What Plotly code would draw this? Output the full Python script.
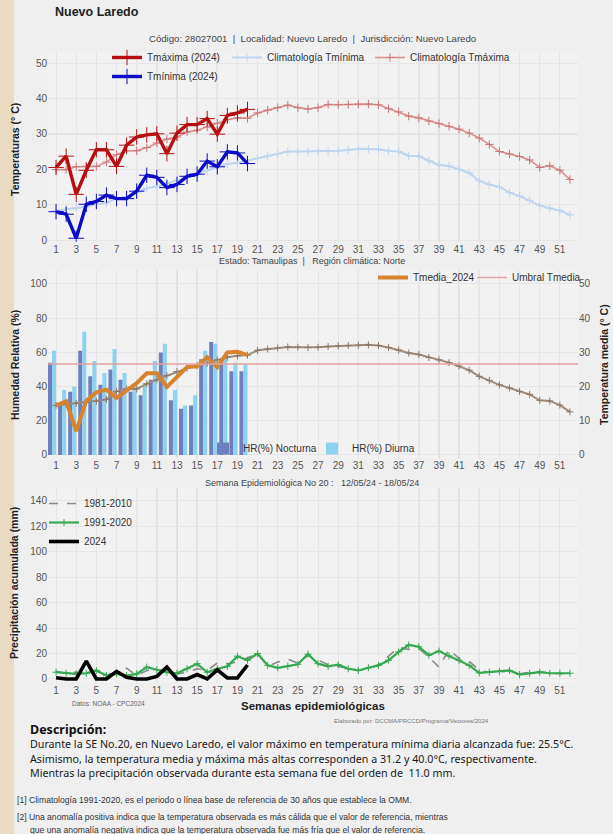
"""Boletín semanal: temperaturas, humedad y precipitación - Nuevo Laredo"""

import plotly.graph_objects as go

W, H = 613, 834

WEEKS = list(range(1, 53))
WEEKS_2024 = list(range(1, 21))
TICK_WEEKS = list(range(1, 52, 2))
MARK_WEEKS = [9, 11, 13, 15, 17, 19, 31, 33, 35, 37, 39, 41, 43]

# --- temperaturas (°C)
TMAX_2024 = [20.5, 23.7, 12.9, 19.7, 25.5, 25.5, 20.8, 26.8, 29.1, 29.7,
             30.0, 24.4, 30.2, 32.6, 32.6, 34.3, 29.9, 35.2, 35.9, 36.9]
TMIN_2024 = [8.0, 7.3, 0.5, 10.1, 10.9, 12.7, 11.7, 11.7, 13.8, 18.3,
             17.7, 14.8, 15.7, 18.0, 18.6, 22.3, 20.7, 24.9, 24.6, 21.6]
CLIM_TMAX = [19.9, 19.9, 20.7, 20.8, 20.8, 22.0, 24.1, 25.2, 25.2, 26.1,
             27.4, 28.5, 29.1, 30.5, 31.0, 31.9, 33.0, 34.0, 34.5, 34.4,
             35.9, 36.7, 37.4, 38.1, 37.4, 37.0, 37.4, 38.3, 38.2, 38.3,
             38.4, 38.4, 38.2, 37.1, 36.2, 35.0, 34.5, 33.6, 32.9, 32.1,
             31.3, 30.2, 28.8, 27.0, 25.0, 24.3, 23.6, 22.6, 20.5, 21.0,
             19.7, 17.1]
CLIM_TMIN = [8.3, 8.6, 9.1, 9.4, 10.1, 10.5, 11.7, 12.2, 13.3, 14.6,
             15.2, 16.0, 16.9, 17.7, 18.8, 19.7, 20.7, 21.5, 21.8, 22.4,
             23.1, 23.8, 24.3, 25.0, 25.0, 25.0, 25.0, 25.0, 25.2, 25.4,
             25.7, 25.7, 25.6, 25.2, 25.0, 23.8, 23.7, 22.4, 21.2, 20.9,
             20.0, 19.0, 16.7, 15.7, 15.0, 13.4, 12.4, 11.2, 9.8, 9.0,
             8.3, 7.1]

# --- humedad relativa (%) y temperatura media (°C)
HR_NOCT = [54, 29, 37, 61, 46, 41, 50, 44, 37, 35,
           44, 60, 32, 27, 29, 56, 66, 56, 49, 49]
HR_DIUR = [61, 38, 40, 72, 55, 48, 62, 48, 40, 42,
           55, 65, 38, 29, 35, 61, 65, 58, 54, 53]
TMED_2024 = [14.5, 15.7, 7.0, 15.9, 18.3, 19.1, 16.7, 18.9, 21.0, 23.9,
             23.9, 19.9, 23.0, 25.7, 25.9, 28.6, 25.7, 30.0, 30.2, 29.2]
CLIM_TMED = [14.5, 14.8, 15.1, 15.4, 15.7, 16.2, 18.6, 19.3, 19.3, 20.8,
             22.0, 23.2, 24.4, 25.4, 26.1, 26.8, 27.8, 28.6, 29.0, 29.2,
             30.6, 31.0, 31.3, 31.6, 31.5, 31.4, 31.5, 31.7, 31.9, 32.0,
             32.1, 32.2, 32.0, 31.4, 30.7, 29.8, 29.4, 28.5, 27.8, 27.0,
             26.0, 24.8, 23.0, 21.8, 20.5, 19.6, 18.6, 17.7, 16.0, 15.8,
             14.6, 12.6]
UMBRAL_TMED = 26.6

# --- precipitación acumulada (mm)
PREC_8110 = [6.1, 4.5, 5.3, 4.5, 6.7, 4.0, 4.5, 8.5, 2.7, 6.7,
             7.2, 6.7, 4.0, 5.3, 8.0, 6.7, 12.5, 12.0, 13.3, 16.8,
             20.0, 9.9, 13.3, 15.5, 12.5, 18.7, 15.2, 11.2, 9.9, 8.0,
             6.7, 8.0, 11.2, 17.9, 24.8, 23.2, 24.0, 17.3, 9.3, 23.2,
             16.0, 13.9, 6.7, 5.3, 5.3, 6.7, 4.0, 5.3, 5.9, 4.5,
             4.5, 4.0]
PREC_9120 = [5.3, 4.5, 4.0, 4.5, 6.7, 2.7, 4.0, 2.7, 4.0, 9.3,
             7.2, 5.3, 4.5, 8.0, 12.0, 5.3, 8.0, 9.9, 17.9, 14.7,
             20.0, 10.7, 8.8, 10.1, 11.5, 19.5, 12.0, 9.9, 11.2, 8.0,
             6.7, 8.8, 10.7, 14.7, 21.3, 26.7, 25.3, 18.7, 21.9, 18.1,
             14.7, 10.7, 4.8, 5.3, 5.9, 6.7, 3.5, 4.5, 5.3, 4.5,
             4.5, 4.5]
PREC_2024 = [1.0, 0.0, 0.0, 14.0, 0.0, 0.0, 6.0, 1.3, 0.0, 0.0,
             2.0, 9.3, 0.0, 0.0, 3.5, 0.0, 7.2, 0.8, 0.8, 11.0]

X_RANGE = [0.2, 52.8]
FONT = "Liberation Sans, Arial, sans-serif"
TICKFONT = dict(family=FONT, size=10, color="#555555")


def fx(px):
    return px / W


def fy(py):
    return 1 - py / H


fig = go.Figure()

# ---------- panel 1: temperaturas
fig.add_trace(go.Scatter(
    x=WEEKS, y=CLIM_TMIN, name="Climatología Tmínima", mode="lines+markers",
    line=dict(color="#BDD5EE", width=2),
    marker=dict(symbol="cross-thin", size=6, line=dict(width=1, color="#BDD5EE")),
    legend="legend2", xaxis="x", yaxis="y",
))
fig.add_trace(go.Scatter(
    x=WEEKS, y=CLIM_TMAX, name="Climatología Tmáxima", mode="lines+markers",
    line=dict(color="#DC9090", width=1.6),
    marker=dict(symbol="cross-thin", size=6, line=dict(width=1, color="#C87878")),
    legend="legend2", xaxis="x", yaxis="y",
))
fig.add_trace(go.Scatter(
    x=WEEKS_2024, y=TMAX_2024, name="Tmáxima (2024)", mode="lines+markers",
    line=dict(color="#B50F12", width=3.4),
    marker=dict(symbol="cross-thin", size=11, line=dict(width=1, color="#B50F12")),
    legend="legend", xaxis="x", yaxis="y",
))
fig.add_trace(go.Scatter(
    x=WEEKS_2024, y=TMIN_2024, name="Tmínima (2024)", mode="lines+markers",
    line=dict(color="#0B0BC8", width=3.4),
    marker=dict(symbol="cross-thin", size=11, line=dict(width=1, color="#0B0BC8")),
    legend="legend", xaxis="x", yaxis="y",
))

# ---------- panel 2: humedad relativa + temperatura media
fig.add_trace(go.Bar(
    x=WEEKS_2024, y=HR_NOCT, name="HR(%) Nocturna", width=0.4, offset=-0.8,
    marker=dict(color="#6E7FBE", line_width=0),
    legend="legend4", xaxis="x2", yaxis="y2",
))
fig.add_trace(go.Bar(
    x=WEEKS_2024, y=HR_DIUR, name="HR(%) Diurna", width=0.4, offset=-0.4,
    marker=dict(color="#8DD2F0", line_width=0),
    legend="legend4", xaxis="x2", yaxis="y2",
))
fig.add_trace(go.Scatter(
    x=WEEKS, y=CLIM_TMED, name="Climatología Tmedia", mode="lines+markers",
    line=dict(color="#A08D7D", width=2),
    marker=dict(symbol="cross-thin", size=5, line=dict(width=1, color="#8C7866")),
    showlegend=False, xaxis="x2", yaxis="y3",
))
fig.add_trace(go.Scatter(
    x=WEEKS_2024, y=TMED_2024, name="Tmedia_2024", mode="lines",
    line=dict(color="#D8842E", width=4),
    legend="legend3", xaxis="x2", yaxis="y3",
))
fig.add_trace(go.Scatter(
    x=X_RANGE, y=[UMBRAL_TMED, UMBRAL_TMED], name="Umbral Tmedia", mode="lines",
    line=dict(color="#E4A0A0", width=1.4),
    legend="legend6", xaxis="x2", yaxis="y3",
))

# ---------- panel 3: precipitación
fig.add_trace(go.Scatter(
    x=WEEKS, y=PREC_8110, name="1981-2010", mode="lines",
    line=dict(color="#8A8A8A", width=1.6, dash="dash"),
    legend="legend5", xaxis="x3", yaxis="y4",
))
fig.add_trace(go.Scatter(
    x=WEEKS, y=PREC_9120, name="1991-2020", mode="lines+markers",
    line=dict(color="#35A852", width=2.2),
    marker=dict(symbol="cross-thin", size=5, line=dict(width=1, color="#35A852")),
    legend="legend5", xaxis="x3", yaxis="y4",
))
fig.add_trace(go.Scatter(
    x=WEEKS_2024, y=PREC_2024, name="2024", mode="lines",
    line=dict(color="#000000", width=3.6),
    legend="legend5", xaxis="x3", yaxis="y4",
))

# ---------- axes
xdom = [fx(48), fx(578)]
xax = dict(domain=xdom, range=X_RANGE, tickvals=TICK_WEEKS, tickfont=TICKFONT,
           showgrid=True, gridcolor="#E6E6E6", zeroline=False, showline=False,
           ticks="", automargin=False)
yax = dict(tickfont=TICKFONT, showgrid=True, gridcolor="#E6E6E6", zeroline=False,
           showline=False, ticks="", automargin=False)

legfont = dict(family=FONT, size=10, color="#333333")
leg = dict(bgcolor="rgba(0,0,0,0)", borderwidth=0, font=legfont, itemwidth=30,
           xanchor="left", yanchor="top")

fig.update_layout(
    width=W, height=H,
    margin=dict(l=0, r=0, t=0, b=0),
    paper_bgcolor="#EFEFEF",
    plot_bgcolor="#F2F2F2",
    font=dict(family=FONT, size=10, color="#333333"),
    barmode="overlay",
    xaxis=dict(**xax, anchor="y"),
    yaxis=dict(**yax, domain=[fy(241.8), fy(52.4)], range=[-0.5, 53],
               tickvals=list(range(0, 51, 10)), anchor="x"),
    xaxis2=dict(**xax, anchor="y2"),
    yaxis2=dict(**yax, domain=[fy(458.4), fy(270.3)], range=[-2, 108],
                tickvals=list(range(0, 101, 20)), anchor="x2"),
    yaxis3=dict(**{**yax, "showgrid": False}, overlaying="y2", side="right",
                range=[-1, 54], tickvals=list(range(0, 51, 10)), anchor="x2"),
    xaxis3=dict(**xax, anchor="y4"),
    yaxis4=dict(**yax, domain=[fy(682.8), fy(488)], range=[-3, 150],
                tickvals=list(range(0, 141, 20)), anchor="x3"),
    legend=dict(**leg, x=fx(107), y=fy(43), orientation="v", tracegroupgap=0),
    legend2=dict(**leg, x=fx(227), y=fy(43), orientation="h", entrywidth=98),
    legend3=dict(**leg, x=fx(373), y=fy(263), orientation="h"),
    legend6=dict(**leg, x=fx(472), y=fy(263), orientation="h"),
    legend4=dict(**leg, x=fx(203), y=fy(434), orientation="h", entrywidth=64),
    legend5=dict(**leg, x=fx(44), y=fy(489), orientation="v"),
    showlegend=True,
)

# franja beige del lado izquierdo
fig.add_shape(type="rect", xref="paper", yref="paper", x0=0, x1=fx(14), y0=0, y1=1,
              fillcolor="#E9DAC2", line_width=0, layer="below")

# líneas verticales de referencia en cada panel
for xr, yr in (("x", "y"), ("x2", "y2"), ("x3", "y4")):
    for wk in MARK_WEEKS:
        fig.add_shape(type="line", xref=xr, yref=f"{yr} domain", x0=wk, x1=wk,
                      y0=0, y1=1, line=dict(color="#C6C6C6", width=1), layer="below")
fig.add_shape(type="line", xref="x domain", yref="y", x0=0, x1=1, y0=30, y1=30,
              line=dict(color="#C4C4C4", width=1), layer="below")


# ---------- textos
def note(text, x, y, size=9, color="#444444", xanchor="center", bold=False, angle=0,
         family=FONT):
    if bold:
        text = f"<b>{text}</b>"
    fig.add_annotation(text=text, x=x, y=y, xref="paper", yref="paper",
                       xanchor=xanchor, yanchor="middle", showarrow=False,
                       textangle=angle, font=dict(family=family, size=size, color=color))


note("Nuevo Laredo", fx(53), fy(12), size=12.5, color="#222222", xanchor="left", bold=True)
note("Código: 28027001  |  Localidad: Nuevo Laredo  |  Jurisdicción: Nuevo Laredo",
     fx(312), fy(38), size=9.6)
note("Estado: Tamaulipas  |   Región climática: Norte", fx(312), fy(261), size=9)
note("Semana Epidemiológica No 20 :   12/05/24 - 18/05/24", fx(312), fy(483), size=9)
note("Datos: NOAA - CPC2024", fx(70), fy(703), size=6.5, color="#666666", xanchor="left")
note("Semanas epidemiológicas", fx(313), fy(706), size=11.5, color="#222222", bold=True)
note("Elaborado por: DCCMA/PRCCD/Programa/Vectores/2024", fx(332), fy(721), size=6,
     color="#777777", xanchor="left")

note("Temperaturas (° C)", fx(15), fy(150), size=10.5, color="#222222", bold=True, angle=-90)
note("Humedad Relativa (%)", fx(15), fy(365), size=10.5, color="#222222", bold=True, angle=-90)
note("Temperatura media (° C)", fx(604), fy(365), size=10.5, color="#222222", bold=True, angle=-90)
note("Precipitación acumulada (mm)", fx(14), fy(583), size=10.5, color="#222222", bold=True, angle=-90)

DESC_FONT = "Noto Sans, DejaVu Sans, sans-serif"
note("Descripción:", fx(28), fy(729), size=12.5, color="#111111", xanchor="left",
     bold=True, family=DESC_FONT)
desc = [
    "Durante la SE No.20, en Nuevo Laredo, el valor máximo en temperatura mínima diaria alcanzada fue: 25.5°C.",
    "Asimismo, la temperatura media y máxima más altas corresponden a 31.2 y 40.0°C, respectivamente.",
    "Mientras la precipitación observada durante esta semana fue del orden de  11.0 mm.",
]
for line, ypx in zip(desc, (744, 759, 773)):
    note(line, fx(28), fy(ypx), size=10.7, color="#1A1A1A", xanchor="left", family=DESC_FONT)

foot = [
    ("[1] Climatología 1991-2020, es el periodo o línea base de referencia de 30 años que establece la OMM.", 15, 800),
    ("[2] Una anomalía positiva indica que la temperatura observada es más cálida que el valor de referencia, mientras", 15, 817),
    ("que una anomalía negativa indica que la temperatura observada fue más fría que el valor de referencia.", 28, 830),
]
for line, xpx, ypx in foot:
    note(line, fx(xpx), fy(ypx), size=8.6, color="#333333", xanchor="left")

# sin margen del <body> para que la figura ocupe toda la ventana
fig.write_html("out.html", config={"displayModeBar": False},
               post_script="document.body.style.margin='0px';")
